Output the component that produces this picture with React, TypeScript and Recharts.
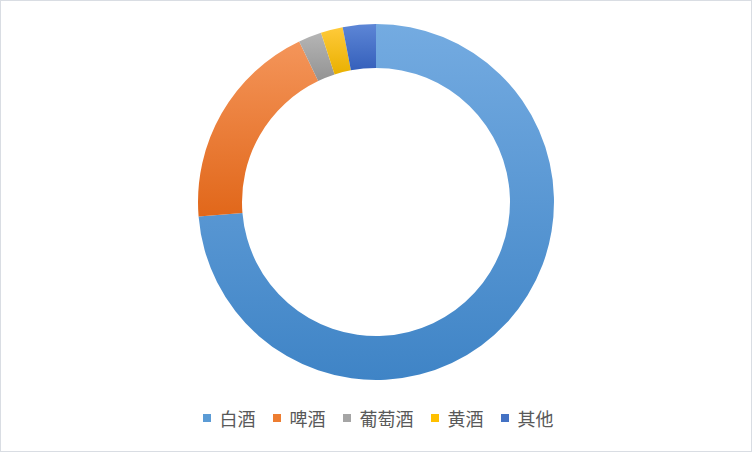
import React from 'react';
import { PieChart, Pie, Cell, Legend } from 'recharts';

const categories = ['白酒', '啤酒', '葡萄酒', '黄酒', '其他'];
const shares = [73.7, 19.2, 2.1, 2.0, 3.0];
const legendColors = ['#5B9BD5', '#ED7D31', '#A5A5A5', '#FFC000', '#4472C4'];
const gradTop = ['#74abe1', '#f4955a', '#b5b5b5', '#ffca3a', '#5d86d6'];
const gradBottom = ['#3f84c6', '#e1671a', '#939393', '#e9b000', '#3560bb'];

const data = categories.map((name, i) => ({ name, value: shares[i] }));

const LegendContent = () => (
  <div
    style={{
      display: 'flex',
      justifyContent: 'center',
      alignItems: 'center',
      fontFamily: '"Noto Sans CJK SC", "Noto Sans", sans-serif',
      fontSize: 18,
      color: '#595959',
      lineHeight: '20px',
      paddingLeft: 4,
    }}
  >
    {categories.map((c, i) => (
      <div key={c} style={{ display: 'flex', alignItems: 'center', marginRight: i < categories.length - 1 ? 17 : 0 }}>
        <span
          style={{
            display: 'inline-block',
            width: 8,
            height: 8,
            background: legendColors[i],
            marginRight: 9,
          }}
        />
        <span>{c}</span>
      </div>
    ))}
  </div>
);

export default function App() {
  return (
    <div
      style={{
        position: 'fixed',
        left: 0,
        top: 0,
        width: 752,
        height: 452,
        boxSizing: 'border-box',
        border: '1px solid #d9dde3',
        background: '#ffffff',
      }}
    >
      <PieChart
        width={752}
        height={452}
        margin={{ top: 0, right: 0, bottom: 0, left: 0 }}
        style={{ position: 'absolute', left: -1, top: -1 }}
      >
        <defs>
          {categories.map((c, i) => (
            <linearGradient key={c} id={`g${i}`} x1="0" y1="0" x2="0" y2="1">
              <stop offset="0%" stopColor={gradTop[i]} />
              <stop offset="100%" stopColor={gradBottom[i]} />
            </linearGradient>
          ))}
        </defs>
        <Pie
          data={data}
          dataKey="value"
          nameKey="name"
          cx={376}
          cy={202}
          outerRadius={178}
          innerRadius={134}
          startAngle={90}
          endAngle={-270}
          stroke="none"
          isAnimationActive={false}
        >
          {data.map((d, i) => (
            <Cell key={d.name} fill={`url(#g${i})`} />
          ))}
        </Pie>
        <Legend
          content={<LegendContent />}
          wrapperStyle={{ position: 'absolute', left: 0, top: 408, width: 752 }}
        />
      </PieChart>
    </div>
  );
}
